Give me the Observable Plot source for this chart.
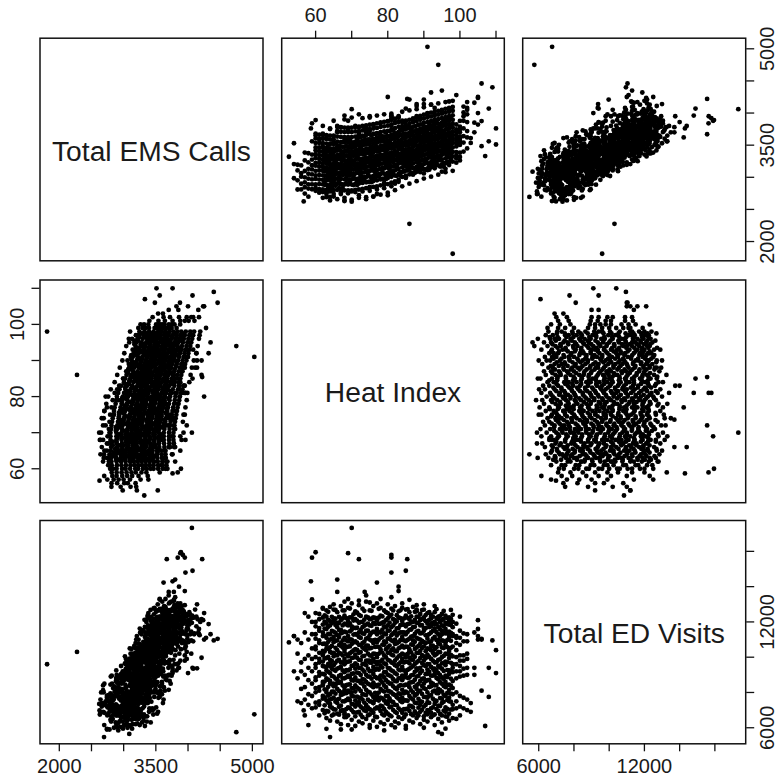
<!DOCTYPE html>
<html><head><meta charset="utf-8">
<script src="https://cdn.jsdelivr.net/npm/d3@7"></script>
<script src="https://cdn.jsdelivr.net/npm/@observablehq/plot@0.6"></script>
<style>
html,body{margin:0;padding:0;background:#fff}
#chart{position:relative;width:781px;height:778px;overflow:hidden;font-family:"Liberation Sans",Arial,sans-serif}
#chart svg{position:absolute;overflow:visible;background:transparent}
</style></head><body><div id="chart"></div>
<script>
const heatIndex=[
60,60,60,60,60,60,60,60,60,60,60,60,60,60,60,60,
61,61,61,61,61,61,61,61,61,61,61,61,61,61,61,61,
62,62,62,62,62,62,62,62,62,62,62,62,62,62,62,62,
63,63,63,63,63,63,63,63,63,63,63,63,63,63,63,63,
64,64,64,64,64,64,64,64,64,64,64,64,64,64,64,64,
65,65,65,65,65,65,65,65,65,65,65,65,65,65,65,65,
66,66,66,66,66,66,66,66,66,66,66,66,66,66,66,66,
67,67,67,67,67,67,67,67,67,67,67,67,67,67,67,67,
68,68,68,68,68,68,68,68,68,68,68,68,68,68,68,68,
69,69,69,69,69,69,69,69,69,69,69,69,69,69,69,69,
70,70,70,70,70,70,70,70,70,70,70,70,70,70,70,70,
71,71,71,71,71,71,71,71,71,71,71,71,71,71,71,71,
72,72,72,72,72,72,72,72,72,72,72,72,72,72,72,72,
73,73,73,73,73,73,73,73,73,73,73,73,73,73,73,73,
74,74,74,74,74,74,74,74,74,74,74,74,74,74,74,74,
75,75,75,75,75,75,75,75,75,75,75,75,75,75,75,75,
76,76,76,76,76,76,76,76,76,76,76,76,76,76,76,76,
77,77,77,77,77,77,77,77,77,77,77,77,77,77,77,77,
78,78,78,78,78,78,78,78,78,78,78,78,78,78,78,78,
79,79,79,79,79,79,79,79,79,79,79,79,79,79,79,79,
80,80,80,80,80,80,80,80,80,80,80,80,80,80,80,80,
81,81,81,81,81,81,81,81,81,81,81,81,81,81,81,81,
82,82,82,82,82,82,82,82,82,82,82,82,82,82,82,82,
83,83,83,83,83,83,83,83,83,83,83,83,83,83,83,83,
84,84,84,84,84,84,84,84,84,84,84,84,84,84,84,84,
85,85,85,85,85,85,85,85,85,85,85,85,85,85,85,85,
86,86,86,86,86,86,86,86,86,86,86,86,86,86,86,86,
87,87,87,87,87,87,87,87,87,87,87,87,87,87,87,87,
88,88,88,88,88,88,88,88,88,88,88,88,88,88,88,88,
89,89,89,89,89,89,89,89,89,89,89,89,89,89,89,89,
90,90,90,90,90,90,90,90,90,90,90,90,90,90,90,90,
91,91,91,91,91,91,91,91,91,91,91,91,91,91,91,91,
92,92,92,92,92,92,92,92,92,92,92,92,92,92,92,92,
93,93,93,93,93,93,93,93,93,93,93,93,93,93,93,93,
94,94,94,94,94,94,94,94,94,94,94,94,94,94,94,94,
95,95,95,95,95,95,95,95,95,95,95,95,95,95,95,95,
96,96,96,96,96,96,96,96,96,96,96,96,96,96,96,96,
97,97,97,97,97,97,97,97,97,97,97,97,97,97,97,97,
98,98,98,98,98,98,98,98,98,98,98,98,98,98,98,98,
102,102,102,102,102,102,102,102,
101,101,101,101,101,101,101,101,
100,100,100,100,100,100,100,100,100,100,100,100,
99,99,99,99,99,99,99,99,99,99,99,99,
59,59,59,59,59,59,59,59,
58,58,58,58,58,58,58,58,
57,57,57,57,57,57,57,
56,56,56,56,56,
55,55,55,55,
54,54,
91,94,86,98,70,85.4,72,81,81,69,60,59,85,81,58.7,59,77,83,66,66,73.6,83,
106,109,92,95,80,86,90,105,110,90,88,92,88,52.6,54,56.7,64,63,95,96,79,
110,107,108,108,106,105,106,105,105,104,104,104,103,103,
68,68,65,72,80,
62.5,62.5,62.5,62.5,62.5,62.5,62.5,62.5,62.5,62.5,62.5,62.5,62.5,62.5,
63.5,63.5,63.5,63.5,63.5,63.5,63.5,63.5,63.5,63.5,63.5,63.5,63.5,63.5,
64.5,64.5,64.5,64.5,64.5,64.5,64.5,64.5,64.5,64.5,64.5,64.5,64.5,64.5,
65.5,65.5,65.5,65.5,65.5,65.5,65.5,65.5,65.5,65.5,65.5,65.5,65.5,65.5,
66.5,66.5,66.5,66.5,66.5,66.5,66.5,66.5,66.5,66.5,66.5,66.5,66.5,66.5,
67.5,67.5,67.5,67.5,67.5,67.5,67.5,67.5,67.5,67.5,67.5,67.5,67.5,67.5,
68.5,68.5,68.5,68.5,68.5,68.5,68.5,68.5,68.5,68.5,68.5,68.5,68.5,68.5,
69.5,69.5,69.5,69.5,69.5,69.5,69.5,69.5,69.5,69.5,69.5,69.5,69.5,69.5,
70.5,70.5,70.5,70.5,70.5,70.5,70.5,70.5,70.5,70.5,70.5,70.5,70.5,70.5,
71.5,71.5,71.5,71.5,71.5,71.5,71.5,71.5,71.5,71.5,71.5,71.5,71.5,71.5,
72.5,72.5,72.5,72.5,72.5,72.5,72.5,72.5,72.5,72.5,72.5,72.5,72.5,72.5,
73.5,73.5,73.5,73.5,73.5,73.5,73.5,73.5,73.5,73.5,73.5,73.5,73.5,73.5,
74.5,74.5,74.5,74.5,74.5,74.5,74.5,74.5,74.5,74.5,74.5,74.5,74.5,74.5,
75.5,75.5,75.5,75.5,75.5,75.5,75.5,75.5,75.5,75.5,75.5,75.5,75.5,75.5,
76.5,76.5,76.5,76.5,76.5,76.5,76.5,76.5,76.5,76.5,76.5,76.5,76.5,76.5,
77.5,77.5,77.5,77.5,77.5,77.5,77.5,77.5,77.5,77.5,77.5,77.5,77.5,77.5,
78.5,78.5,78.5,78.5,78.5,78.5,78.5,78.5,78.5,78.5,78.5,78.5,78.5,78.5,
79.5,79.5,79.5,79.5,79.5,79.5,79.5,79.5,79.5,79.5,79.5,79.5,79.5,79.5,
80.5,80.5,80.5,80.5,80.5,80.5,80.5,80.5,80.5,80.5,80.5,80.5,80.5,80.5,
81.5,81.5,81.5,81.5,81.5,81.5,81.5,81.5,81.5,81.5,81.5,81.5,81.5,81.5,
82.5,82.5,82.5,82.5,82.5,82.5,82.5,82.5,82.5,82.5,82.5,82.5,82.5,82.5,
83.5,83.5,83.5,83.5,83.5,83.5,83.5,83.5,83.5,83.5,83.5,83.5,83.5,83.5,
84.5,84.5,84.5,84.5,84.5,84.5,84.5,84.5,84.5,84.5,84.5,84.5,84.5,84.5,
85.5,85.5,85.5,85.5,85.5,85.5,85.5,85.5,85.5,85.5,85.5,85.5,85.5,85.5,
86.5,86.5,86.5,86.5,86.5,86.5,86.5,86.5,86.5,86.5,86.5,86.5,86.5,86.5,
87.5,87.5,87.5,87.5,87.5,87.5,87.5,87.5,87.5,87.5,87.5,87.5,87.5,87.5,
88.5,88.5,88.5,88.5,88.5,88.5,88.5,88.5,88.5,88.5,88.5,88.5,88.5,88.5,
89.5,89.5,89.5,89.5,89.5,89.5,89.5,89.5,89.5,89.5,89.5,89.5,89.5,89.5,
90.5,90.5,90.5,90.5,90.5,90.5,90.5,90.5,90.5,90.5,90.5,90.5,90.5,90.5,
91.5,91.5,91.5,91.5,91.5,91.5,91.5,91.5,91.5,91.5,91.5,91.5,91.5,91.5,
92.5,92.5,92.5,92.5,92.5,92.5,92.5,92.5,92.5,92.5,92.5,92.5,92.5,92.5,
93.5,93.5,93.5,93.5,93.5,93.5,93.5,93.5,93.5,93.5,93.5,93.5,93.5,93.5,
94.5,94.5,94.5,94.5,94.5,94.5,94.5,94.5,94.5,94.5,94.5,94.5,94.5,94.5,
95.5,95.5,95.5,95.5,95.5,95.5,95.5,95.5,95.5,95.5,95.5,95.5,95.5,95.5,
96.5,96.5,96.5,96.5,96.5,96.5,96.5,96.5,96.5,96.5,96.5,96.5,96.5,96.5,
97.5,97.5,97.5,97.5,97.5,97.5,97.5,97.5,97.5,97.5,97.5,97.5,97.5,97.5,
75,78,72,84,81,88,68,65,74,86,93,62,69,70,75,85,90,67,82,99,97,93,91,75,72,68,65,62,64,77,74,70,76,64,62
];
const edVisits=[
7150,7420,8010,8250,8700,8850,9400,9600,10000,10450,10600,11050,11300,11750,12000,12500,
6700,7300,7500,8100,8300,8950,9150,9700,9900,10250,10800,10950,11500,11650,12150,12450,
7000,7650,7800,8450,8600,9050,9500,9750,10150,10350,10750,11200,11400,11850,12250,12750,
6550,6950,7550,8000,8150,8800,9250,9450,9950,10500,10700,11100,11600,11900,12300,12650,
6400,7200,7350,7900,8500,8650,9100,9650,9850,10300,10550,11000,11300,11800,12050,12850,
6750,7050,7700,8050,8350,8900,9300,9550,10050,10250,10850,11150,11450,12000,12200,12700,
6350,6800,7400,7600,8200,8550,8750,9350,9800,10100,10400,10950,11250,11700,11950,12550,
6200,6950,7250,7850,8000,8600,9000,9450,9700,10200,10650,10800,11350,11550,12100,12900,
6600,6850,7500,7950,8300,8800,9150,9600,9900,10350,10500,11100,11450,11900,12350,12650,
6150,6700,7150,7650,8100,8450,8950,9250,9750,10050,10600,10900,11200,11800,12050,12800,
6450,7000,7350,7800,8250,8700,9050,9500,9950,10300,10750,11000,11550,11750,12250,13050,
6100,6650,7200,7550,8050,8400,8850,9350,9650,10150,10450,10900,11300,11650,12150,12600,
6350,6900,7450,7700,8200,8650,9100,9400,9850,10250,10700,11150,11400,11950,12400,12950,
6250,6600,7100,7600,7900,8500,8750,9300,9600,10050,10550,10800,11350,11700,12000,12750,
6500,6950,7300,7850,8150,8600,9000,9550,9800,10400,10650,11050,11500,11850,12300,13150,
6150,6750,7050,7500,8000,8450,8900,9200,9700,10100,10500,11000,11250,11800,12150,12650,
6400,6850,7400,7750,8300,8550,9050,9450,9900,10200,10800,10950,11450,11950,12250,12900,
6050,6600,7150,7650,7950,8350,8800,9350,9600,10000,10600,10850,11300,11600,12100,13050,
6300,6950,7250,7700,8200,8700,8950,9500,9750,10300,10450,11100,11400,11900,12350,12800,
6200,6700,7050,7550,8050,8400,8850,9150,9650,10100,10700,10900,11350,11750,12000,12650,
6450,6800,7350,7800,8100,8600,9000,9400,9850,10250,10550,11050,11500,11800,12200,13000,
6150,6650,7200,7500,8000,8500,8900,9250,9700,10150,10400,10950,11250,11700,12400,12750,
6350,6900,7300,7850,8250,8650,9100,9550,9800,10350,10750,11000,11450,11950,12100,12900,
6250,6600,7100,7650,7950,8350,8800,9300,9600,10050,10500,10850,11350,11650,12250,12600,
6500,6850,7450,7700,8150,8700,8950,9450,9900,10200,10650,11150,11400,11850,12050,12800,
6100,6750,7050,7550,8050,8450,9050,9200,9750,10000,10600,10900,11300,11750,12350,12700,
6400,6950,7250,7800,8300,8550,8850,9350,9650,10300,10450,11050,11550,11900,12150,12550,
6300,6700,7150,7600,8000,8600,9000,9500,9850,10100,10700,10950,11200,11700,12000,12850,
6550,6800,7400,7900,8200,8400,8900,9250,9700,10250,10550,11100,11450,11950,12300,12600,
6200,6900,7300,7500,8100,8650,9100,9400,9950,10350,10750,11000,11350,11800,12100,12450,
6450,6650,7200,7750,8250,8500,8800,9550,9800,10050,10600,10850,11500,11650,12250,12700,
6350,7000,7450,7700,8000,8700,9050,9300,9600,10150,10500,11050,11250,11900,12050,12500,
6600,6850,7100,7850,8350,8550,8950,9450,9900,10400,10650,10900,11400,11750,12200,12400,
6150,6750,7350,7550,8100,8400,9000,9200,9700,10100,10450,11150,11600,11850,12000,12550,
6500,6950,7250,7950,8200,8750,9100,9500,9850,10300,10800,11000,11300,11700,12150,12300,
6300,6700,7400,7650,8050,8500,8850,9350,9650,10000,10550,10950,11500,11800,12100,12450,
6650,6900,7150,7800,8300,8600,8950,9550,9750,10200,10700,10850,11350,11600,11950,12350,
6400,6800,7500,7700,8150,8450,9050,9250,9950,10350,10500,11100,11450,11850,12050,12250,
6550,7050,7300,7900,8250,8650,9150,9400,9600,10050,10600,11200,11300,11700,12000,12400,
7000,7600,9000,9400,9900,10200,10900,11300,
7100,7700,8950,9350,9800,10100,10900,11350,
6700,7200,7800,8900,9200,9500,9800,10100,10700,11100,11500,12300,
6500,7100,7500,8000,8800,9200,9600,10000,10400,10800,11200,11900,
7100,7800,8500,9200,9900,10500,11300,12000,
6150,7300,7900,8700,9400,10100,11000,12300,
6700,7600,8300,9000,9900,11400,12500,
7400,8200,9200,9700,10800,
7500,8800,10200,11000,
9200,11200,
6760,5750,10300,9600,17330,15560,15560,15650,15800,15900,15950,15640,14900,14800,14300,13270,14230,13750,14400,13700,13700,14000,
11040,10950,11880,11300,12500,9970,12150,11000,9100,13000,12700,12300,9370,10840,11200,6980,5470,5940,5650,5950,5850,
10400,6100,7750,9400,8100,11200,11000,11600,12100,11400,9000,9400,6900,7400,
8130,6750,8500,7300,7500,
6820,7270,7720,8170,8620,9020,9470,9920,10320,10770,11220,11620,12020,12370,
6920,7420,7820,8320,8720,9170,9620,10020,10470,10870,11320,11720,12120,12570,
6690,7140,7640,8040,8490,8940,9340,9790,10240,10640,11040,11490,11940,12290,
7030,7480,7930,8380,8780,9230,9680,10130,10530,10930,11380,11830,12180,12680,
6740,7190,7640,8090,8540,8940,9390,9840,10240,10690,11140,11540,11940,12290,
7000,7500,7900,8400,8800,9250,9700,10100,10550,10950,11400,11800,12200,12650,
6610,7060,7560,7960,8410,8860,9260,9710,10160,10560,10960,11410,11860,12210,
7110,7560,8010,8460,8860,9310,9760,10210,10610,11010,11460,11910,12260,12760,
6880,7330,7780,8230,8680,9080,9530,9980,10380,10830,11280,11680,12080,12430,
6870,7370,7770,8270,8670,9120,9570,9970,10420,10820,11270,11670,12070,12520,
6740,7190,7690,8090,8540,8990,9390,9840,10290,10690,11090,11540,11990,12340,
6980,7430,7880,8330,8730,9180,9630,10080,10480,10880,11330,11780,12130,12630,
6700,7150,7600,8050,8500,8900,9350,9800,10200,10650,11100,11500,11900,12250,
6980,7480,7880,8380,8780,9230,9680,10080,10530,10930,11380,11780,12180,12630,
6630,7080,7580,7980,8430,8880,9280,9730,10180,10580,10980,11430,11880,12230,
7090,7540,7990,8440,8840,9290,9740,10190,10590,10990,11440,11890,12240,12740,
6760,7210,7660,8110,8560,8960,9410,9860,10260,10710,11160,11560,11960,12310,
6900,7400,7800,8300,8700,9150,9600,10000,10450,10850,11300,11700,12100,12550,
6710,7160,7660,8060,8510,8960,9360,9810,10260,10660,11060,11510,11960,12310,
7000,7450,7900,8350,8750,9200,9650,10100,10500,10900,11350,11800,12150,12650,
6830,7280,7730,8180,8630,9030,9480,9930,10330,10780,11230,11630,12030,12380,
7010,7510,7910,8410,8810,9260,9710,10110,10560,10960,11410,11810,12210,12660,
6600,7050,7550,7950,8400,8850,9250,9700,10150,10550,10950,11400,11850,12200,
7080,7530,7980,8430,8830,9280,9730,10180,10580,10980,11430,11880,12230,12730,
6770,7220,7670,8120,8570,8970,9420,9870,10270,10720,11170,11570,11970,12320,
6920,7420,7820,8320,8720,9170,9620,10020,10470,10870,11320,11720,12120,12570,
6690,7140,7640,8040,8490,8940,9340,9790,10240,10640,11040,11490,11940,12290,
7020,7470,7920,8370,8770,9220,9670,10120,10520,10920,11370,11820,12170,12670,
6840,7290,7740,8190,8640,9040,9490,9940,10340,10790,11240,11640,12040,12390,
6910,7410,7810,8310,8710,9160,9610,10010,10460,10860,11310,11710,12110,12560,
6700,7150,7650,8050,8500,8950,9350,9800,10250,10650,11050,11500,11950,12300,
7070,7520,7970,8420,8820,9270,9720,10170,10570,10970,11420,11870,12220,12720,
6780,7230,7680,8130,8580,8980,9430,9880,10280,10730,11180,11580,11980,12330,
6970,7470,7870,8370,8770,9220,9670,10070,10520,10920,11370,11770,12170,12620,
6620,7070,7570,7970,8420,8870,9270,9720,10170,10570,10970,11420,11870,12220,
7030,7480,7930,8380,8780,9230,9680,10130,10530,10930,11380,11830,12180,12680,
13100,13300,13200,13050,13400,12950,13150,13000,13500,13250,12900,12800,13300,5900,6000,5950,6000,5900,6020,11100,11250,9350,9100,9800,10300,10700,11000,10100,9500,7800,7200,8000,7400,7600,8400
];
const emsCalls=[
2975,2790,3100,2835,3225,2890,3360,3030,3180,3465,3300,3605,3420,3650,3535,3680,
2895,3105,2760,2965,3285,2815,3165,3405,3035,3225,3535,3345,3590,3465,3605,3665,
2810,3030,2770,3160,2890,3280,2960,3100,3400,3220,3530,3340,3660,3460,3680,3600,
3025,2805,2955,2690,3155,3335,2885,3215,3455,3095,3275,3655,3395,3595,3620,3525,
2950,2780,3090,2800,3210,2880,3330,3020,3150,3450,3270,3590,3390,3760,3520,3650,
2880,3090,2740,2950,3270,2800,3150,3390,3020,3210,3520,3330,3640,3450,3590,3650,
2805,3058,2660,3208,2897,3346,2978,3139,3484,3277,3633,3415,3783,3553,3720,3714,
3053,2800,2973,2760,3203,3410,2892,3272,3548,3134,3341,3778,3479,3709,3780,3628,
2968,2640,3129,2795,3267,2887,3405,3048,3198,3543,3336,3704,3474,3900,3623,3773,
2887,3129,2750,2968,3336,2795,3198,3474,3048,3267,3623,3405,3740,3543,3704,3773,
2795,3048,2620,3198,2887,3336,2968,3129,3474,3267,3623,3405,3773,3543,3930,3704,
3058,2805,2978,2770,3208,3415,2897,3277,3553,3139,3346,3783,3484,3714,3800,3633,
2983,2680,3144,2810,3282,2902,3420,3063,3213,3558,3351,3719,3489,3700,3638,3788,
2912,3154,2780,2993,3361,2820,3223,3499,3073,3292,3648,3430,3920,3568,3729,3798,
2830,3083,2690,3233,2922,3371,3003,3164,3509,3302,3658,3440,3808,3578,3780,3739,
3093,2840,3013,2790,3243,3450,2932,3312,3588,3174,3381,3818,3519,3749,3930,3668,
3023,2700,3184,2850,3322,2942,3460,3103,3253,3598,3391,3759,3529,3810,3678,3828,
2952,3194,2810,3033,3401,2860,3263,3539,3113,3332,3688,3470,3960,3608,3769,3838,
2875,3128,2730,3278,2967,3416,3048,3209,3554,3347,3703,3485,3853,3623,3840,3784,
3138,2885,3058,2830,3288,3495,2977,3357,3633,3219,3426,3863,3564,3794,3980,3713,
3068,2760,3229,2895,3367,2987,3505,3148,3298,3643,3436,3804,3574,3870,3723,3873,
3007,3249,2860,3088,3456,2915,3318,3594,3168,3387,3743,3525,3990,3663,3824,3893,
2935,3188,2800,3338,3027,3476,3108,3269,3614,3407,3763,3545,3913,3683,3860,3844,
3213,2960,3133,2930,3363,3570,3052,3432,3708,3294,3501,3938,3639,3869,3930,3788,
3155,2860,3295,3005,3415,3085,3535,3225,3355,3655,3475,3795,3595,4020,3725,3855,
3105,3315,3000,3175,3495,3025,3375,3615,3245,3435,3745,3555,3880,3675,3815,3875,
3045,3265,2900,3395,3125,3515,3195,3335,3635,3455,3765,3575,3895,3695,4040,3835,
3285,3065,3215,3040,3415,3595,3145,3475,3715,3355,3535,3915,3655,3855,3900,3785,
3235,2940,3375,3085,3495,3165,3615,3305,3435,3735,3555,3875,3675,4060,3805,3935,
3185,3395,3080,3255,3575,3105,3455,3695,3325,3515,3825,3635,3920,3755,3895,3955,
3125,3345,2980,3475,3205,3595,3275,3415,3715,3535,3845,3655,3975,3775,4090,3915,
3360,3140,3290,3110,3490,3670,3220,3550,3790,3430,3610,3990,3730,3930,3960,3860,
3305,3010,3445,3155,3565,3235,3685,3375,3505,3805,3625,3945,3745,4130,3875,4005,
3250,3460,3140,3320,3640,3170,3520,3760,3390,3580,3890,3700,3980,3820,3960,4020,
3185,3405,3040,3535,3265,3655,3335,3475,3775,3595,3905,3715,4035,3835,4150,3975,
3420,3200,3350,3170,3550,3730,3280,3610,3850,3490,3670,4050,3790,3990,4010,3920,
3365,3080,3505,3215,3625,3295,3745,3435,3565,3865,3685,4005,3805,4170,3935,4065,
3310,3520,3190,3380,3700,3230,3580,3820,3450,3640,3950,3760,4050,3880,4020,4080,
3245,3465,3100,3595,3325,3715,3395,3535,3835,3655,3965,3775,4095,3895,4190,4035,
3450,3620,3720,3860,3980,4050,4080,4170,
3400,3540,3640,3760,3880,3950,4010,4100,
3262,3317,3383,3504,3537,3570,3603,3636,3702,3746,3790,3878,
3228,3294,3338,3393,3481,3525,3569,3613,3657,3701,3745,3822,
2814,2891,2968,3045,3122,3188,3276,3353,
2698,2824,2890,2978,3055,3132,3231,3374,
2746,2845,2922,2999,3098,3263,3384,
2811,2899,3009,3064,3185,
2810,2953,3107,3195,
2985,3205,
5030,4750,2275,1810,4060,4220,3670,3950,3920,3880,3890,3840,4070,3960,3760,3560,3620,3950,3800,3700,3780,3860,
4460,4400,4320,4350,4250,4210,4210,4250,3760,4140,4110,4130,4140,3320,3530,2625,2695,2741,3087,3131,2916,
3510,3330,3560,4070,3485,3820,3875,4000,4235,4160,3700,3850,3535,3610,
2680,2630,2700,2720,2720,
2883,2783,3022,2932,3141,2955,3145,3094,3298,3238,3417,3251,3445,3374,
2782,2987,2841,3046,3020,3209,3069,3263,3122,3306,3426,3330,3324,3503,
2931,2850,2985,2859,3109,3088,3032,3292,3181,3165,3369,3289,3438,3527,
2867,3046,2906,3105,2979,3179,3268,3168,3312,3416,3255,3435,3533,3418,
2931,2831,3070,2980,3189,3003,3193,3142,3346,3286,3465,3299,3493,3422,
2830,3035,2889,3094,3068,3257,3117,3311,3170,3354,3474,3378,3372,3551,
2979,2898,3033,2907,3157,3136,3080,3340,3229,3213,3417,3337,3486,3575,
2915,3094,2954,3153,3027,3227,3316,3216,3360,3464,3303,3483,3581,3466,
2979,2879,3118,3028,3237,3051,3241,3190,3394,3334,3513,3347,3541,3470,
2878,3083,2937,3142,3116,3305,3165,3359,3218,3402,3522,3426,3420,3599,
3027,2946,3081,2955,3205,3184,3128,3388,3277,3261,3465,3385,3534,3623,
2963,3142,3002,3201,3075,3275,3364,3264,3408,3512,3351,3531,3629,3514,
3027,2927,3166,3076,3285,3099,3289,3238,3442,3382,3561,3395,3589,3518,
2926,3131,2985,3190,3164,3353,3213,3407,3266,3450,3570,3474,3468,3647,
3075,2994,3129,3003,3253,3232,3176,3436,3325,3309,3513,3433,3582,3671,
3011,3190,3050,3249,3123,3323,3412,3312,3456,3560,3399,3579,3677,3562,
3075,2975,3214,3124,3333,3147,3337,3286,3490,3430,3609,3443,3637,3566,
2974,3179,3033,3238,3212,3401,3261,3455,3314,3498,3618,3522,3516,3695,
3123,3042,3177,3051,3301,3280,3224,3484,3373,3357,3561,3481,3630,3719,
3059,3238,3098,3297,3171,3371,3460,3360,3504,3608,3447,3627,3725,3610,
3123,3023,3262,3172,3381,3195,3385,3334,3538,3478,3657,3491,3685,3614,
3022,3227,3081,3286,3260,3449,3309,3503,3362,3546,3666,3570,3564,3743,
3171,3090,3225,3099,3349,3328,3272,3532,3421,3405,3609,3529,3678,3767,
3107,3286,3146,3345,3219,3419,3508,3408,3552,3656,3495,3675,3773,3658,
3171,3071,3310,3220,3429,3243,3433,3382,3586,3526,3705,3539,3733,3662,
3070,3275,3129,3334,3308,3497,3357,3551,3410,3594,3714,3618,3612,3791,
3219,3138,3273,3147,3397,3376,3320,3580,3469,3453,3657,3577,3726,3815,
3155,3334,3194,3393,3267,3467,3556,3456,3600,3704,3543,3723,3821,3706,
3219,3119,3358,3268,3477,3291,3481,3430,3634,3574,3753,3587,3781,3710,
3118,3323,3177,3382,3356,3545,3405,3599,3458,3642,3762,3666,3660,3839,
3267,3186,3321,3195,3445,3424,3368,3628,3517,3501,3705,3625,3774,3863,
3203,3382,3242,3441,3315,3515,3604,3504,3648,3752,3591,3771,3869,3754,
3267,3167,3406,3316,3525,3339,3529,3478,3682,3622,3801,3635,3829,3758,
3166,3371,3225,3430,3404,3593,3453,3647,3506,3690,3810,3714,3708,3887,
3315,3234,3369,3243,3493,3472,3416,3676,3565,3549,3753,3673,3822,3911,
3251,3430,3290,3489,3363,3563,3652,3552,3696,3800,3639,3819,3917,3802,
3720,3650,3780,3880,3800,3950,3600,3530,3700,3780,3900,3480,3560,2780,2850,2990,3060,2740,2900,4280,4180,4080,4000,3950,3980,3960,3880,3800,3750,2740,2660,2650,2700,2640,2680
];
const emsTicks=[2000,2500,3000,3500,4000,4500,5000];
const emsLabels=[2000,3500,5000];
const heatTicks=[60,70,80,90,100,110];
const heatLabels=[60,80,100];
const edTicks=[6000,8000,10000,12000,14000,16000];
const edLabels=[6000,12000];
const names=["Total EMS Calls","Heat Index","Total ED Visits"];

const points=edVisits.map((ed,i)=>({ed,heat:heatIndex[i],ems:emsCalls[i]}));
const vars=[
 {key:"ems",domain:[1700,5165],ticks:emsTicks,labels:emsLabels},
 {key:"heat",domain:[50.6,112.3],ticks:heatTicks,labels:heatLabels},
 {key:"ed",domain:[5090,17750],ticks:edTicks,labels:edLabels}
];
const cellX=[0,271.5,512.5,781], cellY=[0,269.5,511,778];
const frameX=[[39.5,262.5],[280.7,503.3],[521.7,744.7]];
const frameY=[[37.7,260.3],[279,501.7],[520,743.3]];
const fmt=labels=>d=>labels.includes(d)?String(d):"";
const root=document.getElementById("chart");
const axisStyle={tickSize:8,fontSize:20,label:null,stroke:"#111",strokeWidth:1.3,color:"#1a1a1a"};
for(let r=0;r<3;r++)for(let c=0;c<3;c++){
 const vx=vars[c],vy=vars[r];
 const marks=[];
 if(r===c){
  marks.push(Plot.text([names[r]],{frameAnchor:"middle",text:d=>d,fontSize:28.2,fill:"#1a1a1a",dy:2,fontFamily:"Liberation Sans"}));
 }else{
  marks.push(Plot.dot(points,{x:vx.key,y:vy.key,r:2.4,fill:"#000",stroke:"none"}));
 }
 marks.push(Plot.frame({stroke:"#111",strokeWidth:1.5}));
 if(r===2&&c!==1)marks.push(Plot.axisX({anchor:"bottom",ticks:vx.ticks,tickFormat:fmt(vx.labels),tickPadding:7,...axisStyle}));
 if(r===0&&c===1)marks.push(Plot.axisX({anchor:"top",ticks:vx.ticks,tickFormat:fmt(vx.labels),tickPadding:8,...axisStyle}));
 if(c===0&&r===1)marks.push(Plot.axisY({anchor:"left",ticks:vy.ticks,tickFormat:fmt(vy.labels),tickRotate:-90,tickPadding:8,...axisStyle}));
 if(c===2&&r!==1)marks.push(Plot.axisY({anchor:"right",ticks:vy.ticks,tickFormat:fmt(vy.labels),tickRotate:-90,tickPadding:6,lineAnchor:"top",...axisStyle}));
 const p=Plot.plot({
  width:cellX[c+1]-cellX[c],height:cellY[r+1]-cellY[r],
  marginLeft:frameX[c][0]-cellX[c],marginRight:cellX[c+1]-frameX[c][1],
  marginTop:frameY[r][0]-cellY[r],marginBottom:cellY[r+1]-frameY[r][1],
  x:{domain:vx.domain,axis:null},y:{domain:vy.domain,axis:null},
  style:{fontFamily:"Liberation Sans",overflow:"visible",background:"transparent"},
  marks
 });
 p.style.left=cellX[c]+"px";p.style.top=cellY[r]+"px";
 root.appendChild(p);
}
</script></body></html>
